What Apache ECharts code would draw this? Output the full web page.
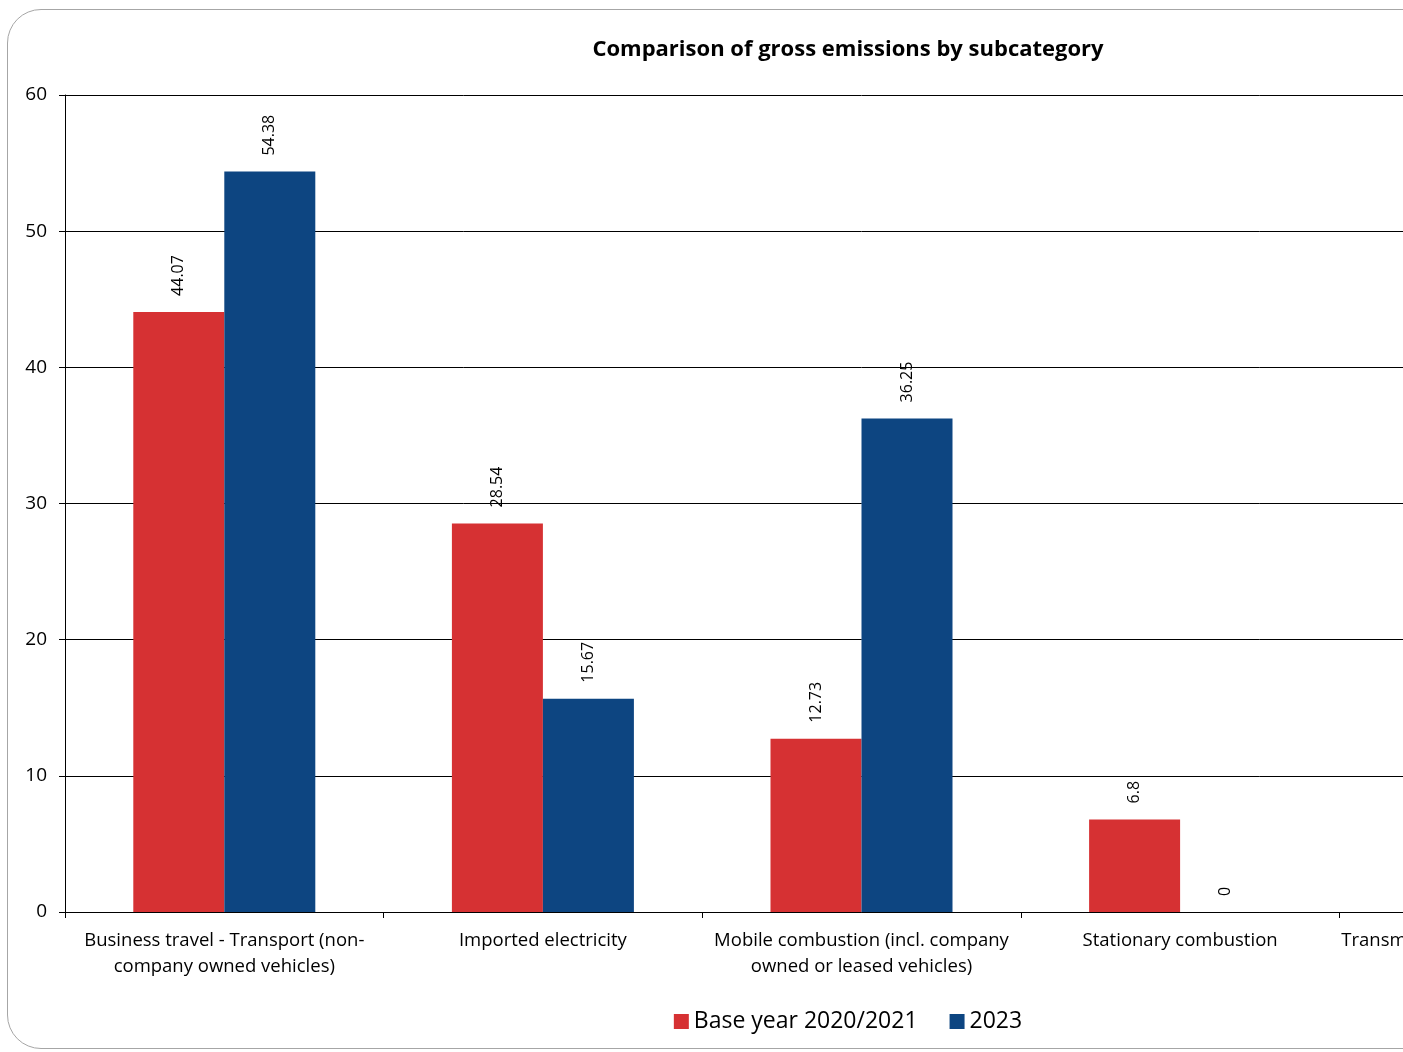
<!DOCTYPE html>
<html>
<head>
<meta charset="utf-8">
<script src="https://cdn.jsdelivr.net/npm/echarts@6/dist/echarts.min.js"></script>
<style>
html,body{margin:0;padding:0;background:#fff;overflow:hidden;width:1403px;height:1052px;}
#frame{position:absolute;left:7px;top:9px;width:1680px;height:1038px;border:1px solid #a6a6a6;border-radius:34px;background:#fff;}
#chart{width:1680px;height:1038px;}
</style>
</head>
<body>
<div id="frame"><div id="chart"></div></div>
<script>
// categories and values
var categories = [
    "Business travel - Transport (non-\ncompany owned vehicles)",
    "Imported electricity",
    "Mobile combustion (incl. company\nowned or leased vehicles)",
    "Stationary combustion",
    "Transmission and distribution losses"
];
var baseYear = [44.07, 28.54, 12.73, 6.8, 2.1];
var year2023 = [54.38, 15.67, 36.25, 0, 1.6];
var seriesNames = ["Base year 2020/2021", "2023"];
var fontName = "Open Sans";

var chart = echarts.init(document.getElementById("chart"));

var labelStyle = {
    show: true,
    position: "top",
    rotate: 90,
    distance: 16,
    align: "left",
    verticalAlign: "middle",
    color: "#000",
    fontFamily: fontName,
    fontSize: 16
};

var option = {
    animation: false,
    title: {
        text: "Comparison of gross emissions by subcategory",
        left: "center",
        top: 24,
        textStyle: {
            color: "#000",
            fontFamily: fontName,
            fontSize: 22,
            fontWeight: "bold"
        }
    },
    legend: {
        bottom: 10,
        left: "center",
        itemWidth: 15,
        itemHeight: 15,
        itemGap: 32,
        icon: "rect",
        textStyle: {
            color: "#000",
            fontFamily: fontName,
            fontSize: 23
        },
        data: seriesNames
    },
    grid: {
        left: 57,
        top: 85,
        width: 1593,
        height: 817
    },
    xAxis: {
        type: "category",
        data: categories,
        axisLine: {lineStyle: {color: "#000", width: 1}},
        axisTick: {show: true, length: 6, lineStyle: {color: "#000"}},
        axisLabel: {
            color: "#000",
            fontFamily: fontName,
            fontSize: 18.5,
            lineHeight: 26,
            margin: 16,
            interval: 0
        }
    },
    yAxis: {
        type: "value",
        min: 0,
        max: 60,
        interval: 10,
        axisLine: {show: true, lineStyle: {color: "#000", width: 1}},
        axisTick: {show: true, length: 6, lineStyle: {color: "#000"}},
        splitLine: {lineStyle: {color: "#000", width: 1}},
        axisLabel: {
            color: "#000",
            fontFamily: fontName,
            fontSize: 19,
            margin: 18
        }
    },
    series: [
        {
            name: seriesNames[0],
            type: "bar",
            barWidth: 91,
            barGap: "0%",
            itemStyle: {color: "#d63133"},
            label: labelStyle,
            data: baseYear
        },
        {
            name: seriesNames[1],
            type: "bar",
            barWidth: 91,
            barGap: "0%",
            itemStyle: {color: "#0d4581"},
            label: labelStyle,
            data: year2023
        }
    ]
};
chart.setOption(option);
</script>
</body>
</html>
